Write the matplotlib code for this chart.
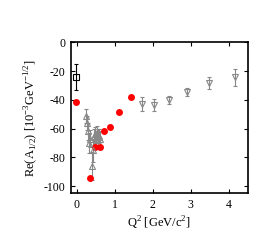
import numpy as np
import matplotlib.pyplot as plt

plt.rcParams['font.family'] = 'Liberation Serif'
plt.rcParams['mathtext.fontset'] = 'custom'
plt.rcParams['mathtext.rm'] = 'Liberation Serif'
plt.rcParams['axes.unicode_minus'] = False

# red circles (model)
red_q2 = [-0.03, 0.36, 0.49, 0.62, 0.73, 0.88, 1.12, 1.42]
red_a = [-41.7, -94.2, -72.5, -72.5, -61.4, -59.0, -48.3, -37.9]

# open square at photon point
sq_q2 = [-0.03]
sq_a = [-24.0]
sq_err = [9.0]

# gray up triangles (low Q2 cluster)
up_q2 = [0.25, 0.28, 0.30, 0.33, 0.36, 0.40, 0.43, 0.45, 0.48, 0.50, 0.53, 0.55, 0.58, 0.60]
up_a = [-51, -56, -62, -70, -67, -86, -75, -66, -64, -68, -63, -66, -65, -67]
up_err = [5, 5, 6, 7, 6, 10, 8, 6, 5, 6, 5, 6, 5, 5]

# gray down triangles (high Q2)
dn_q2 = [1.71, 2.03, 2.43, 2.89, 3.48, 4.16]
dn_a = [-42.7, -43.5, -40.0, -34.4, -28.2, -24.3]
dn_err = [5, 4, 3, 3, 4, 6]

fig = plt.figure(figsize=(2.73, 2.45), dpi=100)
ax = fig.add_axes([0.26, 0.211, 0.648, 0.616])

gray = '#888888'
ax.errorbar(up_q2, up_a, yerr=up_err, fmt='^', mfc='none', mec=gray, ecolor=gray,
            ms=5, mew=0.8, elinewidth=0.8, capsize=1.5, color=gray)
ax.errorbar(dn_q2, dn_a, yerr=dn_err, fmt='v', mfc='none', mec=gray, ecolor=gray,
            ms=5, mew=0.8, elinewidth=0.8, capsize=1.5)
ax.errorbar(sq_q2, sq_a, yerr=sq_err, fmt='s', mfc='none', mec='black', ecolor='black',
            ms=5, mew=0.8, elinewidth=0.8, capsize=1.5)
ax.plot(red_q2, red_a, 'o', color='red', ms=5, mec='none')

ax.set_xlim(-0.15, 4.5)
ax.set_ylim(-105, 0)
ax.set_xticks([0, 1, 2, 3, 4])
ax.set_yticks([0, -20, -40, -60, -80, -100])
ax.tick_params(direction='in', top=True, right=True, labelsize=8.5, length=3, width=0.8, pad=4)
for s in ax.spines.values():
    s.set_linewidth(1.2)

ax.set_xlabel(r'Q$^{\mathregular{2}}$ [GeV/c$^{\mathregular{2}}$]', fontsize=9, labelpad=3)
ax.set_ylabel(r'Re(A$_{\mathregular{1/2}}$) [10$^{\mathregular{-3}}$GeV$^{\mathregular{-1/2}}$]', fontsize=9, labelpad=3)

fig.savefig('out.png', dpi=100)
